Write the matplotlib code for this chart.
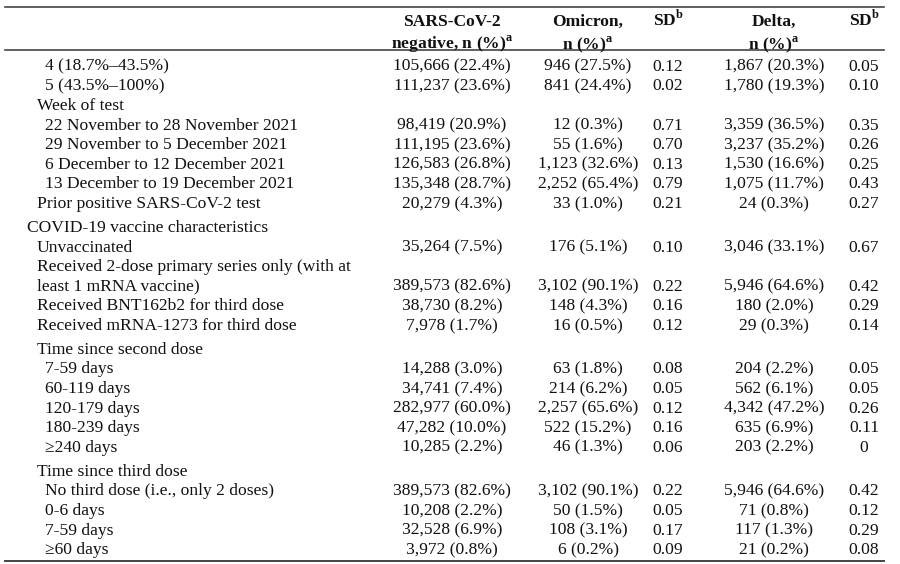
import matplotlib.pyplot as plt

plt.rcParams['font.family'] = ['Liberation Serif', 'DejaVu Serif']
plt.rcParams['mathtext.fontset'] = 'custom'
plt.rcParams['mathtext.rm'] = 'Liberation Serif'
plt.rcParams['mathtext.bf'] = 'Liberation Serif:bold'

# Table content
headers = [['SARS-CoV-2', r'negative, n (%)$^{\mathbf{a}}$'],
           ['Omicron,', r'n (%)$^{\mathbf{a}}$'],
           [r'SD$^{\mathbf{b}}$'],
           ['Delta,', r'n (%)$^{\mathbf{a}}$'],
           [r'SD$^{\mathbf{b}}$']]

labels = ['4 (18.7%\u201343.5%)', '5 (43.5%\u2013100%)', 'Week of test',
          '22 November to 28 November 2021', '29 November to 5 December 2021',
          '6 December to 12 December 2021', '13 December to 19 December 2021',
          'Prior positive SARS-CoV-2 test', 'COVID-19 vaccine characteristics',
          'Unvaccinated', 'Received 2-dose primary series only (with at',
          'least 1 mRNA vaccine)', 'Received BNT162b2 for third dose',
          'Received mRNA-1273 for third dose', 'Time since second dose',
          '7-59 days', '60-119 days', '120-179 days', '180-239 days',
          '\u2265240 days', 'Time since third dose',
          'No third dose (i.e., only 2 doses)', '0-6 days', '7-59 days',
          '\u226560 days']

# indentation level of each label
levels = [2, 2, 1, 2, 2, 2, 2, 1, 0, 1, 1, 1, 1, 1, 1,
          2, 2, 2, 2, 2, 1, 2, 2, 2, 2]

negative = ['105,666 (22.4%)', '111,237 (23.6%)', '', '98,419 (20.9%)',
            '111,195 (23.6%)', '126,583 (26.8%)', '135,348 (28.7%)',
            '20,279 (4.3%)', '', '35,264 (7.5%)', '', '389,573 (82.6%)',
            '38,730 (8.2%)', '7,978 (1.7%)', '', '14,288 (3.0%)',
            '34,741 (7.4%)', '282,977 (60.0%)', '47,282 (10.0%)',
            '10,285 (2.2%)', '', '389,573 (82.6%)', '10,208 (2.2%)',
            '32,528 (6.9%)', '3,972 (0.8%)']

omicron = ['946 (27.5%)', '841 (24.4%)', '', '12 (0.3%)', '55 (1.6%)',
           '1,123 (32.6%)', '2,252 (65.4%)', '33 (1.0%)', '', '176 (5.1%)',
           '', '3,102 (90.1%)', '148 (4.3%)', '16 (0.5%)', '', '63 (1.8%)',
           '214 (6.2%)', '2,257 (65.6%)', '522 (15.2%)', '46 (1.3%)', '',
           '3,102 (90.1%)', '50 (1.5%)', '108 (3.1%)', '6 (0.2%)']

sd_omicron = ['0.12', '0.02', '', '0.71', '0.70', '0.13', '0.79', '0.21', '',
              '0.10', '', '0.22', '0.16', '0.12', '', '0.08', '0.05', '0.12',
              '0.16', '0.06', '', '0.22', '0.05', '0.17', '0.09']

delta = ['1,867 (20.3%)', '1,780 (19.3%)', '', '3,359 (36.5%)',
         '3,237 (35.2%)', '1,530 (16.6%)', '1,075 (11.7%)', '24 (0.3%)', '',
         '3,046 (33.1%)', '', '5,946 (64.6%)', '180 (2.0%)', '29 (0.3%)', '',
         '204 (2.2%)', '562 (6.1%)', '4,342 (47.2%)', '635 (6.9%)',
         '203 (2.2%)', '', '5,946 (64.6%)', '71 (0.8%)', '117 (1.3%)',
         '21 (0.2%)']

sd_delta = ['0.05', '0.10', '', '0.35', '0.26', '0.25', '0.43', '0.27', '',
            '0.67', '', '0.42', '0.29', '0.14', '', '0.05', '0.05', '0.26',
            '0.11', '0', '', '0.42', '0.12', '0.29', '0.08']

# Layout (pixel coordinates)
col_x = [452, 588, 668, 774, 864]
indent_x = [27, 37, 45]
wider_gap = {8, 14, 20}
fs = 12.6
base_off = 5.8  # baseline sits this far below the visual row centre
ink = '#111111'

fig = plt.figure(figsize=(9, 5.64), dpi=100)
ax = fig.add_axes([0, 0, 1, 1])
ax.set_xlim(0, 900)
ax.set_ylim(564, 0)
ax.axis('off')

line_color = '#444444'
ax.plot([5, 884], [7, 7], color=line_color, lw=1.2)
ax.plot([5, 884], [50, 50], color=line_color, lw=1.2)
ax.plot([5, 884], [561, 561], color=line_color, lw=1.4)

for x, head in zip(col_x, headers):
    for k, line in enumerate(head):
        ax.text(x, 20 + k * 23 + base_off, line, ha='center', va='baseline',
                fontsize=fs, fontweight='bold', color=ink)

columns = [negative, omicron, sd_omicron, delta, sd_delta]
y = 65
for i, lab in enumerate(labels):
    if i > 0:
        y += 19.6
        if i in wider_gap:
            y += 4.3
    ax.text(indent_x[levels[i]], y + base_off, lab, ha='left', va='baseline',
            fontsize=fs, color=ink)
    for x, col in zip(col_x, columns):
        if col[i]:
            ax.text(x, y + base_off, col[i], ha='center', va='baseline',
                    fontsize=fs, color=ink)

fig.savefig('out.png', dpi=100, facecolor='white')
